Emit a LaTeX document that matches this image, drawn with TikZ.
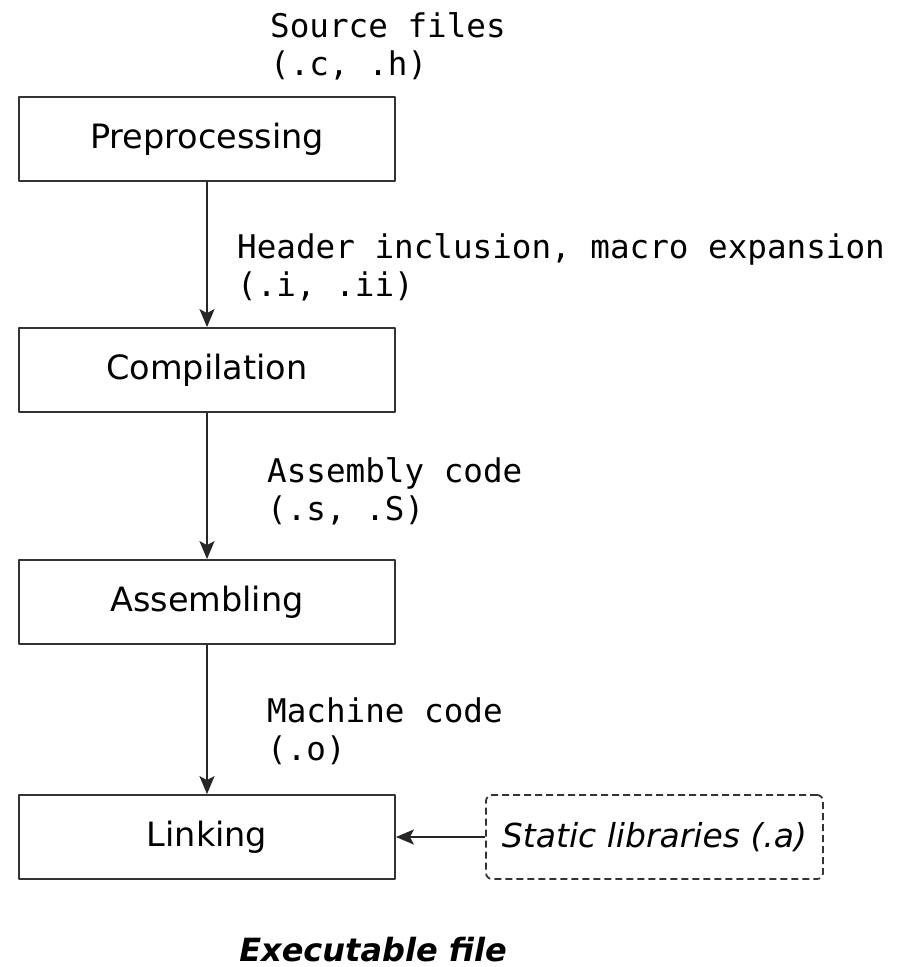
\documentclass[tikz,border=0pt]{standalone}
\usepackage{fontspec}
\setmainfont{DejaVu Sans}
\setmonofont{DejaVu Sans Mono}
\usetikzlibrary{arrows.meta}
\tikzset{
	stage/.style={rectangle, draw=black!80, line width=1.8pt, minimum width=376pt, minimum height=84pt, inner sep=0pt, font=\fontsize{33.5}{38}\selectfont},
	extlib/.style={rectangle, draw=black!80, line width=1.8pt, dashed, dash pattern=on 7pt off 4pt, rounded corners=6pt, minimum width=337pt, minimum height=84pt, inner sep=0pt, font=\fontsize{33}{38}\selectfont\itshape},
	filetag/.style={anchor=north west, inner sep=0pt, align=left, font=\fontsize{32.6}{38}\selectfont\ttfamily},
	flow/.style={draw=black!85, line width=1.8pt, -{Stealth[length=18pt, width=15pt, inset=4pt]}}
}
\begin{document}
\begin{tikzpicture}[x=1pt, y=-1pt, line join = round]
	\useasboundingbox (0,0) rectangle (905,967);
	\node[stage] (pre) at (207,139) {Preprocessing};
	\node[stage] (comp) at (207,370) {Compilation};
	\node[stage] (asm) at (207,602) {Assembling};
	\node[stage] (link) at (207,837) {Linking};
	\node[extlib] (static) at (654.5,837) {Static libraries (.a)};
	\node[filetag] (src) at (270,12) {Source files\\(.c, .h)};
	\node[filetag] (ifile) at (237,233) {Header inclusion, macro expansion\\(.i, .ii)};
	\node[filetag] (sfile) at (267,457) {Assembly code\\(.s, .S)};
	\node[filetag] (ofile) at (267,698) {Machine code\\(.o)};
	\node[anchor=base, inner sep=0pt, font=\fontsize{32}{38}\selectfont\bfseries\itshape] (exe) at (373,961) {Executable file};
	\foreach \a/\b in {pre/comp, comp/asm, asm/link} {\draw[flow] (\a) -- (\b);}
	\draw[flow] (static) -- (link);
\end{tikzpicture}
\end{document}
